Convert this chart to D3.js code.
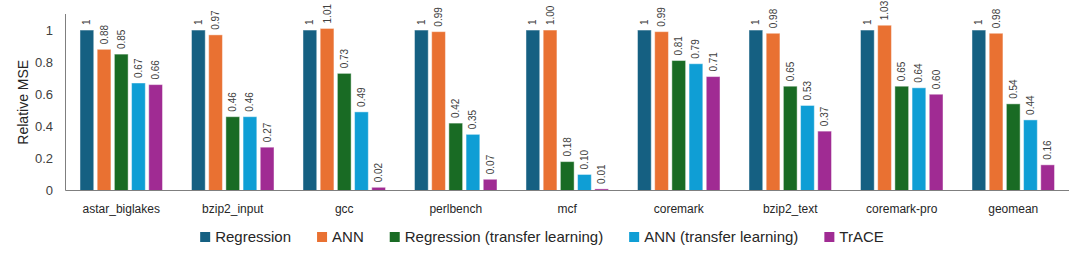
<!DOCTYPE html>
<html>
<head>
<meta charset="utf-8">
<script src="https://cdn.jsdelivr.net/npm/d3@7"></script>
<style>
body { margin: 0; background: #fff; }
text { font-family: "Liberation Sans", Arial, sans-serif; }
</style>
</head>
<body>
<script>
var width = 1080, height = 256;

var categories = ["astar_biglakes", "bzip2_input", "gcc", "perlbench", "mcf", "coremark", "bzip2_text", "coremark-pro", "geomean"];
var seriesNames = ["Regression", "ANN", "Regression (transfer learning)", "ANN (transfer learning)", "TrACE"];
var seriesColors = ["#156082", "#e97132", "#196b24", "#0f9ed5", "#a02b93"];
var regression = [1, 1, 1, 1, 1, 1, 1, 1, 1];
var ann = [0.88, 0.97, 1.01, 0.99, 1.00, 0.99, 0.98, 1.03, 0.98];
var regressionTL = [0.85, 0.46, 0.73, 0.42, 0.18, 0.81, 0.65, 0.65, 0.54];
var annTL = [0.67, 0.46, 0.49, 0.35, 0.10, 0.79, 0.53, 0.64, 0.44];
var trace = [0.66, 0.27, 0.02, 0.07, 0.01, 0.71, 0.37, 0.60, 0.16];
var yTicks = [0, 0.2, 0.4, 0.6, 0.8, 1];

var seriesValues = [regression, ann, regressionTL, annTL, trace];

var svg = d3.select("body").append("svg")
            .attr("width", width).attr("height", height);

var plotLeft = 65.5, plotRight = 1069, plotTop = 14, plotBottom = 190.5;

var x = d3.scaleBand().domain(categories).range([plotLeft, plotRight])
          .paddingInner(0.26).paddingOuter(0.13);
var xInner = d3.scaleBand().domain(d3.range(seriesNames.length))
               .range([0, x.bandwidth()]).paddingInner(0.2).paddingOuter(0);
var y = d3.scaleLinear().domain([0, 1.1]).range([plotBottom, plotTop]);

// y tick labels (no tick marks, no gridlines)
svg.append("g").selectAll("text").data(yTicks).enter().append("text")
   .attr("x", 53).attr("y", function(d){ return y(d); })
   .attr("dy", "0.35em")
   .attr("text-anchor", "end")
   .attr("font-size", 13)
   .attr("fill", "#404040")
   .text(function(d){ return d3.format("")(d); });

svg.append("text")
   .attr("transform", "translate(23," + ((plotTop + plotBottom) / 2) + ") rotate(-90)")
   .attr("dy", "0.35em")
   .attr("text-anchor", "middle")
   .attr("font-size", 14)
   .attr("fill", "#262626")
   .text("Relative MSE");

// bars
var groups = svg.append("g").selectAll("g").data(categories).enter().append("g")
                .attr("transform", function(d){ return "translate(" + x(d) + ",0)"; });

var fmtInt = d3.format(""), fmtDec = d3.format(".2f");

groups.each(function(cat, ci){
    var g = d3.select(this);
    var rows = seriesValues.map(function(vals, si){ return {s: si, v: vals[ci]}; });
    g.selectAll("rect").data(rows).enter().append("rect")
     .attr("x", function(d){ return xInner(d.s); })
     .attr("width", xInner.bandwidth())
     .attr("y", function(d){ return y(d.v); })
     .attr("height", function(d){ return y(0) - y(d.v); })
     .attr("fill", function(d){ return seriesColors[d.s]; })
     .attr("stroke", "#ffffff").attr("stroke-opacity", 0.45).attr("stroke-width", 1);
    g.selectAll("text").data(rows).enter().append("text")
     .attr("transform", function(d){
         return "translate(" + (xInner(d.s) + xInner.bandwidth() / 2) + "," + (y(d.v) - 5) + ") rotate(-90)";
     })
     .attr("dy", "0.35em")
     .attr("font-size", 10)
     .attr("fill", "#404040")
     .text(function(d){ return d.s === 0 ? fmtInt(d.v) : fmtDec(d.v); });
});

// axes lines
svg.append("line").attr("x1", plotLeft).attr("x2", plotLeft).attr("y1", plotTop).attr("y2", plotBottom)
   .attr("stroke", "#7f7f7f").attr("stroke-width", 1);
svg.append("line").attr("x1", plotLeft).attr("x2", plotRight).attr("y1", plotBottom).attr("y2", plotBottom)
   .attr("stroke", "#7f7f7f").attr("stroke-width", 1);

// category labels
svg.append("g").selectAll("text").data(categories).enter().append("text")
   .attr("x", function(d){ return x(d) + x.bandwidth() / 2; })
   .attr("y", 213)
   .attr("text-anchor", "middle")
   .attr("font-size", 12)
   .attr("fill", "#262626")
   .text(function(d){ return d; });

// legend
var legend = svg.append("g");
var items = legend.selectAll("g").data(seriesNames).enter().append("g");
items.append("rect").attr("width", 10).attr("height", 10).attr("y", -5)
     .attr("fill", function(d, i){ return seriesColors[i]; });
items.append("text").attr("x", 15).attr("dy", "0.35em")
     .attr("font-size", 15).attr("fill", "#262626")
     .text(function(d){ return d; });
var pos = 0;
items.each(function(){
    var w = this.querySelector("text").getComputedTextLength();
    d3.select(this).attr("transform", "translate(" + pos + ",0)");
    pos += 15 + w + 26;
});
var total = pos - 26;
legend.attr("transform", "translate(" + (542 - total / 2) + ",237)");
</script>
</body>
</html>
